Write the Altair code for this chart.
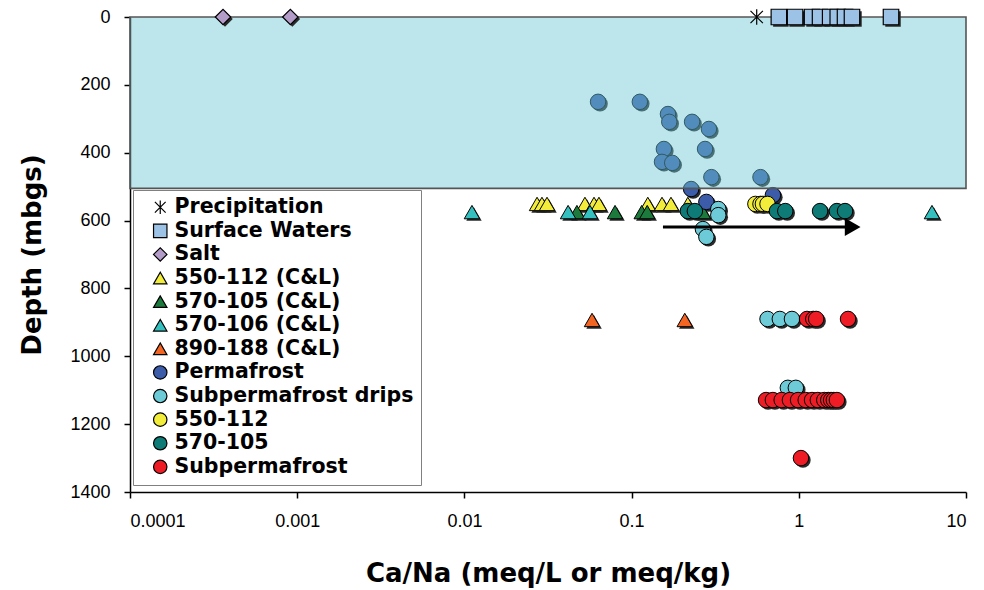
import altair as alt
import pandas as pd

# ---- series (legend order) ----
SERIES = [
    "Precipitation", "Surface Waters", "Salt",
    "550-112 (C&L)", "570-105 (C&L)", "570-106 (C&L)", "890-188 (C&L)",
    "Permafrost", "Subpermafrost drips", "550-112", "570-105", "Subpermafrost",
]

ASTERISK = "M0,-1L0,1M-0.8,-0.8L0.8,0.8M-0.8,0.8L0.8,-0.8"
SHAPES = [
    ASTERISK, "square", "diamond",
    "triangle-up", "triangle-up", "triangle-up", "triangle-up",
    "circle", "circle", "circle", "circle", "circle",
]
FILLS = [
    "transparent", "#9cc3e6", "#b49cc9",
    "#f2ec3a", "#1c7a3c", "#35c0c0", "#f26522",
    "#3c5caa", "#6dcbd8", "#f2ec3a", "#0e7b76", "#ee1c25",
]
OUTLINES = ["black"] * len(SERIES)

# ---- Ca/Na ratio and depth (mbgs) per series ----
precip_ratio = [0.56]
precip_depth = [0]

surface_ratio = [0.76, 0.95, 1.20, 1.34, 1.54, 1.71, 1.89, 2.08, 3.56]
surface_depth = [0, 0, 0, 0, 0, 0, 0, 0, 0]

salt_ratio = [0.00036, 0.00091]
salt_depth = [0, 0]

cl_550_112_ratio = [0.0272, 0.0291, 0.0312, 0.0526, 0.0596, 0.0638, 0.125, 0.152, 0.172, 0.217]
cl_550_112_depth = [551, 551, 551, 551, 551, 551, 551, 551, 551, 551]

cl_570_105_ratio = [0.0471, 0.0796, 0.115, 0.124, 0.267]
cl_570_105_depth = [575, 575, 575, 575, 575]

cl_570_106_ratio = [0.0111, 0.0417, 0.0564, 6.26]
cl_570_106_depth = [575, 575, 575, 575]

cl_890_188_ratio = [0.058, 0.208]
cl_890_188_depth = [893, 893]

permafrost_ratio = [0.063, 0.112, 0.165, 0.168, 0.23, 0.29, 0.156, 0.275,
                    0.152, 0.175, 0.30, 0.59, 0.227, 0.28, 0.70]
permafrost_depth = [250, 250, 286, 309, 309, 330, 389, 389,
                    427, 430, 472, 472, 507, 545, 525]

drips_ratio = [0.33, 0.33, 0.267, 0.28, 0.65, 0.77, 0.91, 0.86, 0.96]
drips_depth = [566, 584, 625, 648, 890, 890, 890, 1093, 1093]

w550_112_ratio = [0.55, 0.59, 0.61, 0.65]
w550_112_depth = [551, 551, 551, 551]

w570_105_ratio = [0.217, 0.239, 0.74, 0.83, 1.34, 1.69, 1.89]
w570_105_depth = [572, 572, 572, 572, 572, 572, 572]

subperm_ratio = [1.12, 1.22, 1.27, 1.97,
                 0.637, 0.70, 0.79, 0.885, 0.99, 1.10, 1.20, 1.30, 1.42, 1.50, 1.56, 1.62, 1.69,
                 1.03]
subperm_depth = [890, 890, 890, 890,
                 1129, 1129, 1129, 1129, 1129, 1129, 1129, 1129, 1129, 1129, 1129, 1129, 1129,
                 1300]

# shaded upper zone and trend arrow
zone_ratio = [0.0001, 10]
zone_depth = [0, 505]
arrow_ratio = [0.154, 1.93]
arrow_head_ratio = [2.1]
arrow_depth = [619]

series_data = [
    ("Precipitation", precip_ratio, precip_depth),
    ("Surface Waters", surface_ratio, surface_depth),
    ("Salt", salt_ratio, salt_depth),
    ("550-112 (C&L)", cl_550_112_ratio, cl_550_112_depth),
    ("570-105 (C&L)", cl_570_105_ratio, cl_570_105_depth),
    ("570-106 (C&L)", cl_570_106_ratio, cl_570_106_depth),
    ("890-188 (C&L)", cl_890_188_ratio, cl_890_188_depth),
    ("Permafrost", permafrost_ratio, permafrost_depth),
    ("Subpermafrost drips", drips_ratio, drips_depth),
    ("550-112", w550_112_ratio, w550_112_depth),
    ("570-105", w570_105_ratio, w570_105_depth),
    ("Subpermafrost", subperm_ratio, subperm_depth),
]

rows = []
for name, rs, ds in series_data:
    for r, d in zip(rs, ds):
        rows.append({"series": name, "ratio": r, "depth": d,
                     "shape": SHAPES[SERIES.index(name)]})
df = pd.DataFrame(rows)

surface_names = ["Precipitation", "Surface Waters", "Salt"]
df_deep = df[~df["series"].isin(surface_names)]
df_top = df[df["series"].isin(surface_names)]

FONT = "Liberation Sans"
BOLD_FONT = "DejaVu Sans"

x_scale = alt.Scale(type="log", domain=[0.0001, 10], nice=False)
y_scale = alt.Scale(domain=[0, 1400], reverse=True, nice=False)

x_enc = alt.X("ratio:Q", scale=x_scale, axis=alt.Axis(
    values=[0.0001, 0.001, 0.01, 0.1, 1, 10], format="~g",
    title="Ca/Na (meq/L or meq/kg)", labelPadding=14, titlePadding=30))
y_enc = alt.Y("depth:Q", scale=y_scale, axis=alt.Axis(
    values=list(range(0, 1401, 200)), format="d", title="Depth (mbgs)",
    labelPadding=14, titlePadding=24))

legend = alt.Legend(title=None, orient="none", legendX=3, legendY=173)
shape_enc = alt.Shape("series:N", scale=alt.Scale(domain=SERIES, range=SHAPES), legend=legend)
fill_enc = alt.Fill("series:N", scale=alt.Scale(domain=SERIES, range=FILLS), legend=legend)
stroke_enc = alt.Stroke("series:N", scale=alt.Scale(domain=SERIES, range=OUTLINES), legend=legend)

POINT_SIZE = 240


def shadows(data, shape_name, size):
    sub = data[data["shape"] == shape_name]
    return alt.Chart(sub).mark_point(
        shape=shape_name, filled=True, fill="#2a2a2a", size=size,
        xOffset=2, yOffset=2, strokeWidth=0, opacity=1
    ).encode(x=x_enc, y=y_enc)


deep_shadow = [shadows(df_deep, s, POINT_SIZE) for s in ["triangle-up", "circle"]]
top_shadow = [shadows(df_top, s, POINT_SIZE) for s in ["square", "diamond"]]

deep_points = alt.Chart(df_deep).mark_point(
    filled=True, strokeWidth=1, size=POINT_SIZE, opacity=1
).encode(x=x_enc, y=y_enc, shape=shape_enc, fill=fill_enc, stroke=stroke_enc)

top_points = alt.Chart(df_top).mark_point(
    filled=True, strokeWidth=1.2, size=POINT_SIZE, opacity=1
).encode(x=x_enc, y=y_enc, shape=shape_enc, fill=fill_enc, stroke=stroke_enc)

zone_df = pd.DataFrame({"ratio": [zone_ratio[0]], "ratio2": [zone_ratio[1]],
                        "depth": [zone_depth[0]], "depth2": [zone_depth[1]]})
zone = alt.Chart(zone_df).mark_rect(
    fill="#6cc8d5", fillOpacity=0.45, stroke="#555555", strokeWidth=1.6
).encode(x=x_enc, x2="ratio2:Q", y=y_enc, y2="depth2:Q")

arrow_df = pd.DataFrame({"ratio": [arrow_ratio[0]], "ratio2": [arrow_ratio[1]],
                         "depth": arrow_depth})
arrow_line = alt.Chart(arrow_df).mark_rule(color="black", strokeWidth=3).encode(
    x=x_enc, x2="ratio2:Q", y=y_enc)
head_df = pd.DataFrame({"ratio": arrow_head_ratio, "depth": arrow_depth})
arrow_head = alt.Chart(head_df).mark_point(
    shape="triangle-right", filled=True, fill="black", size=330, opacity=1, strokeWidth=0
).encode(x=x_enc, y=y_enc)

chart = alt.layer(
    *deep_shadow, deep_points, zone, *top_shadow, top_points, arrow_line, arrow_head
).properties(
    width=836, height=475,
    autosize=alt.AutoSizeParams(type="none"),
    padding={"left": 130, "top": 17, "right": 18, "bottom": 98},
).configure_view(
    stroke=None
).configure_axis(
    grid=False, domainColor="black", domainWidth=1.5, tickColor="black",
    tickWidth=1.5, tickSize=6, labelFont=FONT, labelFontSize=18,
    labelColor="black", titleFont=BOLD_FONT, titleFontSize=26,
    titleFontWeight="bold", titleColor="black",
).configure_legend(
    fillColor="white", strokeColor="#808080", padding=7, cornerRadius=0,
    labelFont=BOLD_FONT, labelFontSize=20.5, labelFontWeight="bold", labelColor="black",
    symbolSize=180, symbolStrokeColor="black", symbolStrokeWidth=1.2,
    symbolOffset=10, labelOffset=4, rowPadding=2.6, labelLimit=400,
)

chart.save("out.html", embed_options={"renderer": "svg", "actions": False})
